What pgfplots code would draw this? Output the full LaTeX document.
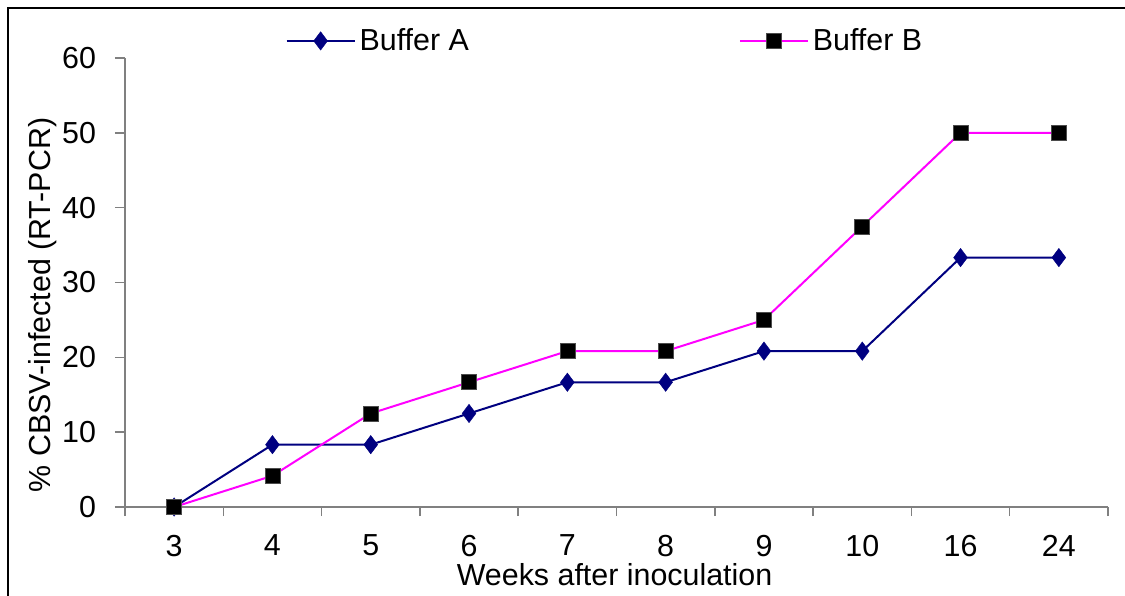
\documentclass[border=0pt]{standalone}
\usepackage{fontspec}
\setmainfont{Liberation Sans}
\usepackage{pgfplots}
\pgfplotsset{compat=1.18}
\definecolor{navyA}{HTML}{000080}
\definecolor{magB}{HTML}{FF00FF}
\definecolor{axgray}{HTML}{808080}
\begin{document}
\begin{tikzpicture}
\path[use as bounding box] (0,0) rectangle (562.5pt,297.5pt);
\fill[white] (0,0) rectangle (562.5pt,297.5pt);
\draw[black, line width=1pt] (4pt,-2pt) -- (4pt,293.5pt) -- (565pt,293.5pt);
\begin{axis}[
  at={(62.5pt,44pt)}, anchor=south west,
  scale only axis, width=491.5pt, height=224.5pt,
  xmin=-0.5, xmax=9.5, ymin=0, ymax=60,
  axis x line*=bottom, axis y line*=left,
  axis line style={axgray, line width=0.75pt, -},
  xtick={0,...,9},
  xticklabels={3,4,5,6,7,8,9,10,16,24},
  major x tick style={draw=none},
  minor xtick={-0.5,0.5,...,9.5},
  minor x tick style={axgray, line width=0.75pt},
  minor tick length=4.5pt,
  ytick={0,10,...,60},
  major y tick style={axgray, line width=0.75pt},
  major tick length=5pt,
  tick align=outside,
  font=\fontsize{15.2pt}{17pt}\selectfont,
  /pgf/number format/assume math mode=true,
  xticklabel style={yshift=-5.5pt},
  yticklabel style={xshift=-6pt},
  xlabel={Weeks after inoculation},
  ylabel={\% CBSV-infected (RT-PCR)},
  xlabel style={at={(axis description cs:0.498,-0.151)}, anchor=center},
  ylabel style={at={(axis description cs:-0.084,0.45)}, anchor=center, rotate=0},
  legend columns=2,
  legend style={draw=none, fill=none, inner sep=0pt,
    at={(axis description cs:0.163,1.038)}, anchor=west,
    /tikz/every even column/.append style={column sep=133pt},
    font=\fontsize{15.2pt}{17pt}\selectfont},
  legend image code/.code={
    \draw[mark repeat=2,mark phase=2,#1] plot coordinates {(0pt,0pt) (17pt,0pt) (34pt,0pt)};
  },
  clip=false,
]
\addplot[navyA, line width=1pt, mark=diamond*, mark size=4.6pt, mark options={fill=navyA, draw=navyA, line width=0.2pt}]
  coordinates {(0,0) (1,8.33) (2,8.33) (3,12.5) (4,16.67) (5,16.67) (6,20.83) (7,20.83) (8,33.33) (9,33.33)};
\addlegendentry{Buffer A}
\addplot[magB, line width=1pt, mark=square*, mark size=3.75pt, mark options={fill=black, draw=black!70, line width=0.3pt}]
  coordinates {(0,0) (1,4.17) (2,12.5) (3,16.67) (4,20.83) (5,20.83) (6,25) (7,37.5) (8,50) (9,50)};
\addlegendentry{Buffer B}
\end{axis}
\end{tikzpicture}
\end{document}
